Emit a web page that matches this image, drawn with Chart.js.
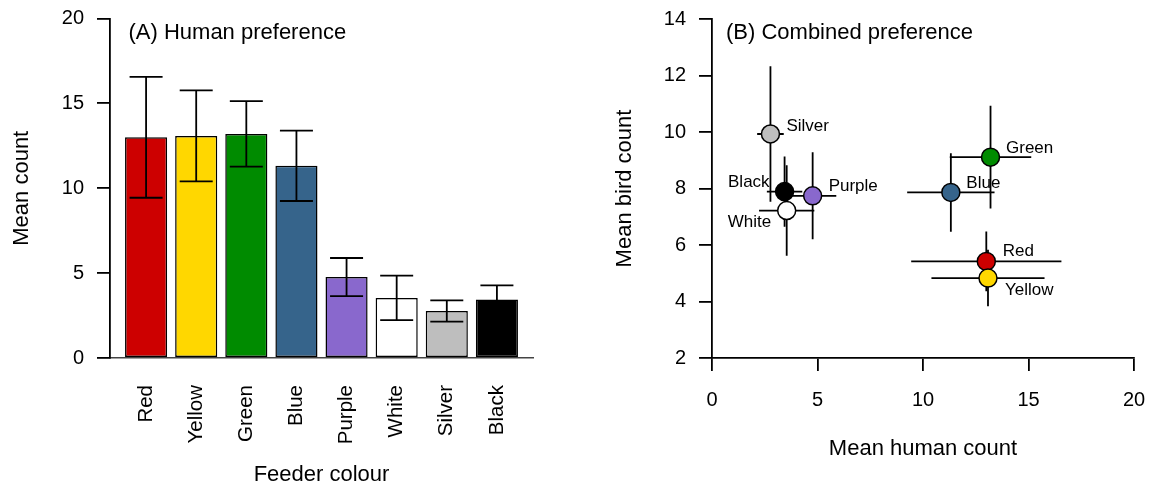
<!DOCTYPE html>
<html>
<head>
<meta charset="utf-8">
<script src="https://cdn.jsdelivr.net/npm/chart.js@4"></script>
<style>
  html, body { margin: 0; padding: 0; background: #fff; }
  #wrap { position: relative; width: 1152px; height: 486px; }
  .panel { position: absolute; top: 0; width: 576px; height: 486px; }
</style>
</head>
<body>
<div id="wrap">
  <div class="panel" style="left:0"><canvas id="humanChart" width="576" height="486"></canvas></div>
  <div class="panel" style="left:576px"><canvas id="combinedChart" width="576" height="486"></canvas></div>
</div>
<script>
// data
const feederColours = ["Red", "Yellow", "Green", "Blue", "Purple", "White", "Silver", "Black"];
const humanMean = [13.0, 13.08, 13.2, 11.32, 4.77, 3.54, 2.77, 3.44];
const humanSE   = [3.56, 2.68, 1.93, 2.07, 1.12, 1.31, 0.63, 0.84];
const birdMean  = [5.42, 4.83, 9.11, 7.86, 7.74, 7.22, 9.93, 7.89];
const birdSE    = [1.06, 1.0, 1.82, 1.39, 1.54, 1.6, 2.4, 1.24];
const humanTicks = [0, 5, 10, 15, 20];
const birdTicks = [2, 4, 6, 8, 10, 12, 14];
const humanCountTicks = [0, 5, 10, 15, 20];

// colours of the feeders (R colour names)
const fillColours = ["#CD0000", "#FFD700", "#008B00", "#36648B", "#8968CD", "#FFFFFF", "#BEBEBE", "#000000"];
// drawing order of the points in panel B (white sits on top of black)
const pointOrder = [0, 1, 2, 3, 4, 6, 7, 5];

const FONT = "'Liberation Sans', Arial, Helvetica, sans-serif";
Chart.defaults.font.family = FONT;
Chart.defaults.color = "#000";
Chart.defaults.animation = false;

function panelLabel(text, dx) {
  return {
    id: "panelLabel",
    afterDraw(chart) {
      const c = chart.ctx;
      c.save();
      c.font = "22px " + FONT;
      c.fillStyle = "#000";
      c.textBaseline = "alphabetic";
      c.fillText(text, chart.chartArea.left + dx, 39);
      c.restore();
    }
  };
}

// (A) bars with error bars
const barErrors = {
  id: "barErrors",
  afterDatasetsDraw(chart) {
    const { ctx: c, scales: { x, y } } = chart;
    c.save();
    c.strokeStyle = "#000";
    c.lineWidth = 1.8;
    humanMean.forEach((m, i) => {
      const px = x.getPixelForValue(i + 1);
      const hi = y.getPixelForValue(m + humanSE[i]);
      const lo = y.getPixelForValue(m - humanSE[i]);
      c.beginPath();
      c.moveTo(px, hi); c.lineTo(px, lo);
      c.moveTo(px - 16.5, hi); c.lineTo(px + 16.5, hi);
      c.moveTo(px - 16.5, lo); c.lineTo(px + 16.5, lo);
      c.stroke();
    });
    c.restore();
  }
};

new Chart(document.getElementById("humanChart"), {
  type: "bar",
  data: {
    datasets: [{
      data: feederColours.map((f, i) => ({ x: i + 1, y: humanMean[i] })),
      backgroundColor: fillColours,
      borderColor: "#000",
      borderWidth: 1.5,
      borderSkipped: false,
      barPercentage: 0.84,
      categoryPercentage: 1
    }]
  },
  options: {
    responsive: false,
    layout: { padding: { top: 18.5, right: 43, left: 0, bottom: 0 } },
    plugins: { legend: { display: false }, tooltip: { enabled: false } },
    scales: {
      x: {
        type: "linear",
        min: 0.28,
        max: 8.72,
        offset: false,
        afterBuildTicks: s => { s.ticks = feederColours.map((f, i) => ({ value: i + 1 })); },
        afterFit: s => { s.height = 128; s.paddingLeft = 0; s.paddingRight = 0; },
        grid: { display: false, drawTicks: false, tickLength: 0 },
        border: { display: true, color: "#444", width: 1.5 },
        ticks: {
          autoSkip: false,
          minRotation: 90,
          maxRotation: 90,
          padding: 27,
          font: { size: 20.5 },
          callback: v => feederColours[Math.round(v) - 1]
        },
        title: {
          display: true,
          text: "Feeder colour",
          font: { size: 22, lineHeight: 1 },
          padding: { top: 0, bottom: 0 }
        }
      },
      y: {
        min: 0,
        max: 20,
        afterBuildTicks: s => { s.ticks = humanTicks.map(v => ({ value: v })); },
        afterFit: s => { s.width = 110; s.paddingTop = 0; s.paddingBottom = 0; },
        grid: { drawOnChartArea: false, drawTicks: true, tickLength: 13, color: "#000", lineWidth: 1.8 },
        border: { display: true, color: "#000", width: 1.8 },
        ticks: { padding: 13, font: { size: 20 } },
        title: {
          display: true,
          text: "Mean count",
          font: { size: 22, lineHeight: 1 },
          padding: { top: 11, bottom: 0 }
        }
      }
    }
  },
  plugins: [barErrors, panelLabel("(A) Human preference", 18.5)]
});

// (B) scatter with errors on both axes
const labelPlacement = {
  Red:    { dx: 16.5, dy: -5,   align: "left" },
  Yellow: { dx: 17,   dy: 16.5, align: "left" },
  Green:  { dx: 15.5, dy: -4,   align: "left" },
  Blue:   { dx: 15.5, dy: -4.5, align: "left" },
  Purple: { dx: 16,   dy: -4.5, align: "left" },
  White:  { dx: -15.5, dy: 16,  align: "right" },
  Silver: { dx: 16,   dy: -3,   align: "left" },
  Black:  { dx: -15,  dy: -5,   align: "right" }
};

const crossErrors = {
  id: "crossErrors",
  beforeDatasetsDraw(chart) {
    const { ctx: c, scales: { x, y } } = chart;
    c.save();
    c.strokeStyle = "#000";
    c.lineWidth = 1.8;
    feederColours.forEach((f, i) => {
      const px = x.getPixelForValue(humanMean[i]);
      const py = y.getPixelForValue(birdMean[i]);
      c.beginPath();
      c.moveTo(x.getPixelForValue(humanMean[i] - humanSE[i]), py);
      c.lineTo(x.getPixelForValue(humanMean[i] + humanSE[i]), py);
      c.moveTo(px, y.getPixelForValue(birdMean[i] + birdSE[i]));
      c.lineTo(px, y.getPixelForValue(birdMean[i] - birdSE[i]));
      c.stroke();
    });
    c.restore();
  },
  afterDatasetsDraw(chart) {
    const { ctx: c, scales: { x, y } } = chart;
    c.save();
    c.font = "17px " + FONT;
    c.fillStyle = "#000";
    c.textBaseline = "alphabetic";
    feederColours.forEach((f, i) => {
      const p = labelPlacement[f];
      c.textAlign = p.align;
      c.fillText(f, x.getPixelForValue(humanMean[i]) + p.dx, y.getPixelForValue(birdMean[i]) + p.dy);
    });
    c.restore();
  }
};

new Chart(document.getElementById("combinedChart"), {
  type: "scatter",
  data: {
    datasets: [{
      data: pointOrder.map(i => ({ x: humanMean[i], y: birdMean[i] })),
      backgroundColor: pointOrder.map(i => fillColours[i]),
      borderColor: "#000",
      borderWidth: 1.5,
      pointRadius: 9,
      pointHoverRadius: 9
    }]
  },
  options: {
    responsive: false,
    layout: { autoPadding: false, padding: { top: 19, right: 18, left: 0, bottom: 0 } },
    plugins: { legend: { display: false }, tooltip: { enabled: false } },
    scales: {
      x: {
        type: "linear",
        min: 0,
        max: 20,
        afterBuildTicks: s => { s.ticks = humanCountTicks.map(v => ({ value: v })); },
        afterFit: s => { s.height = 128; s.paddingLeft = 0; s.paddingRight = 0; },
        grid: { drawOnChartArea: false, drawTicks: true, tickLength: 13, color: "#000", lineWidth: 1.8 },
        border: { display: true, color: "#000", width: 1.8 },
        ticks: { padding: 17, font: { size: 20 }, maxRotation: 0 },
        title: {
          display: true,
          text: "Mean human count",
          font: { size: 22, lineHeight: 1 },
          padding: { top: 0, bottom: 26 }
        }
      },
      y: {
        min: 2,
        max: 14,
        afterBuildTicks: s => { s.ticks = birdTicks.map(v => ({ value: v })); },
        afterFit: s => { s.width = 136; s.paddingTop = 0; s.paddingBottom = 0; },
        grid: { drawOnChartArea: false, drawTicks: true, tickLength: 13, color: "#000", lineWidth: 1.8 },
        border: { display: true, color: "#000", width: 1.8 },
        ticks: { padding: 13, font: { size: 20 } },
        title: {
          display: true,
          text: "Mean bird count",
          font: { size: 22, lineHeight: 1 },
          padding: { top: 38, bottom: 0 }
        }
      }
    }
  },
  plugins: [crossErrors, panelLabel("(B) Combined preference", 14)]
});
</script>
</body>
</html>
